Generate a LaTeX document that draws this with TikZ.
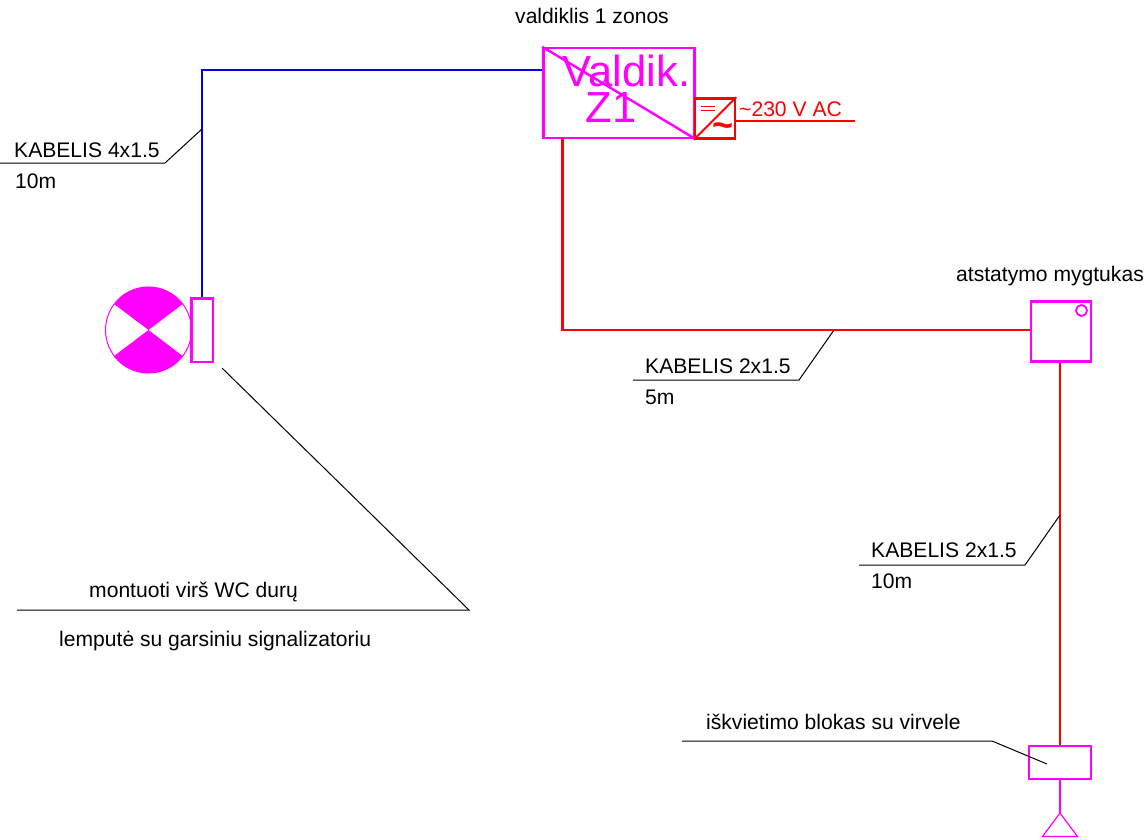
\documentclass[tikz,border=0pt]{standalone}
\usepackage{fontspec}
\setmainfont{Liberation Sans}
\definecolor{mag}{RGB}{255,0,255}
\definecolor{cred}{RGB}{255,0,0}
\definecolor{cblue}{RGB}{0,0,230}
\tikzset{
  box/.style={draw=mag,line width=2.5pt,inner sep=0pt,minimum width=#1},
  redw/.style={draw=cred,line width=2.2pt},
  bluew/.style={draw=cblue,line width=2.4pt},
  lead/.style={draw=black,line width=1pt},
  lbl/.style={font=\fontsize{21.1}{25}\selectfont,inner sep=0pt,anchor=base west},
}
\begin{document}
\begin{tikzpicture}[x=1pt,y=-1pt]
\useasboundingbox (0,0) rectangle (1146,839);
% controller
\node[box=151pt,minimum height=90pt] (ctrl) at (619,93) {};
\node[font=\fontsize{43.5}{44}\selectfont,text=mag,inner sep=0pt] (t1) at (626.5,71) {Valdik.};
\node[font=\fontsize{43.5}{44}\selectfont,text=mag,inner sep=0pt] (t2) at (611,108) {Z1};
\draw[mag,line width=2.4pt] (ctrl.north west) -- (ctrl.south east);
% converter
\node[draw=cred,line width=2.5pt,minimum width=40pt,minimum height=40pt,inner sep=0pt] (conv) at (715,118.5) {};
\draw[cred,line width=2pt] (conv.south west) -- (conv.north east);
\draw[cred,line width=0.8pt] (701,106.5) -- (714.5,106.5) (701,110.5) -- (714.5,110.5);
\node[font=\fontsize{36}{36}\bfseries\selectfont,text=cred,inner sep=0pt] (tilde) at (723.5,130) {\char"7E\relax};
\coordinate (supply) at (855,121);
\draw[redw] (conv.east |- supply) -- (supply);
\node[lbl,text=cred] (ac) at (739,116) {\char"7E\relax 230 V AC};
\node[lbl] (zl) at (515,23.5) {valdiklis 1 zonos};
% lamp
\coordinate (lc) at (148.5,330);
\draw[mag,line width=1pt] (lc) circle[radius=43];
\fill[mag] (lc) -- ++(-34.5,-26) arc[start angle=217,end angle=323,x radius=43,y radius=43] -- cycle;
\fill[mag] (lc) -- ++(-34.5,26) arc[start angle=143,end angle=37,x radius=43,y radius=43] -- cycle;
\node[box=21.5pt,minimum height=63.5pt] (lampbox) at (202,330) {};
% blue cable
\coordinate (bc) at (202,70);
\draw[bluew] (lampbox.north) -- (bc) -- (ctrl.west |- bc);
% reset button
\node[box=60pt,minimum height=60pt] (reset) at (1061,331.5) {};
\draw[mag,line width=1.8pt] (1081.5,310.5) circle[radius=5.5];
\node[lbl] (rl) at (956,281.5) {atstatymo mygtukas};
% call block
\node[box=62pt,minimum height=33pt] (call) at (1060,762.5) {};
\coordinate (rc) at (562.5,330);
\draw[redw] (562.5,138) -- (rc) -- (reset.west |- rc);
\draw[redw] (call.north) -- (call.north |- reset.south);
\coordinate (tri) at (1060,813);
\draw[mag,line width=1.2pt] (call.south) -- (tri);
\draw[mag,line width=1.2pt] (tri) -- (1077.5,836.5) -- (1042.5,836.5) -- cycle;
% leaders
\coordinate (a1) at (202,129); \coordinate (a2) at (165,163); \coordinate (a3) at (0,163);
\draw[lead] (a1) -- (a2) -- (a3);
\node[lbl] (k1) at (14,157) {KABELIS 4x1.5};
\node[lbl] (k1b) at (15,188) {10m};
\coordinate (b1) at (834,330); \coordinate (b2) at (799,380); \coordinate (b3) at (633,380);
\draw[lead] (b1) -- (b2) -- (b3);
\node[lbl] (k2) at (645,373) {KABELIS 2x1.5};
\node[lbl] (k2b) at (645,404) {5m};
\coordinate (c1) at (1060,515); \coordinate (c2) at (1025,565); \coordinate (c3) at (859,565);
\draw[lead] (c1) -- (c2) -- (c3);
\node[lbl] (k3) at (871,557) {KABELIS 2x1.5};
\node[lbl] (k3b) at (871,588) {10m};
\coordinate (d1) at (222,368); \coordinate (d2) at (469,610); \coordinate (d3) at (17,610);
\draw[lead] (d1) -- (d2) -- (d3);
\node[lbl] (m1) at (89,597) {montuoti virš WC durų};
\node[lbl] (m2) at (59,646) {lemputė su garsiniu signalizatoriu};
\coordinate (e1) at (1047,764); \coordinate (e2) at (992,741); \coordinate (e3) at (682,741);
\draw[lead] (e1) -- (e2) -- (e3);
\node[lbl] (i1) at (706,729) {iškvietimo blokas su virvele};
\end{tikzpicture}
\end{document}
